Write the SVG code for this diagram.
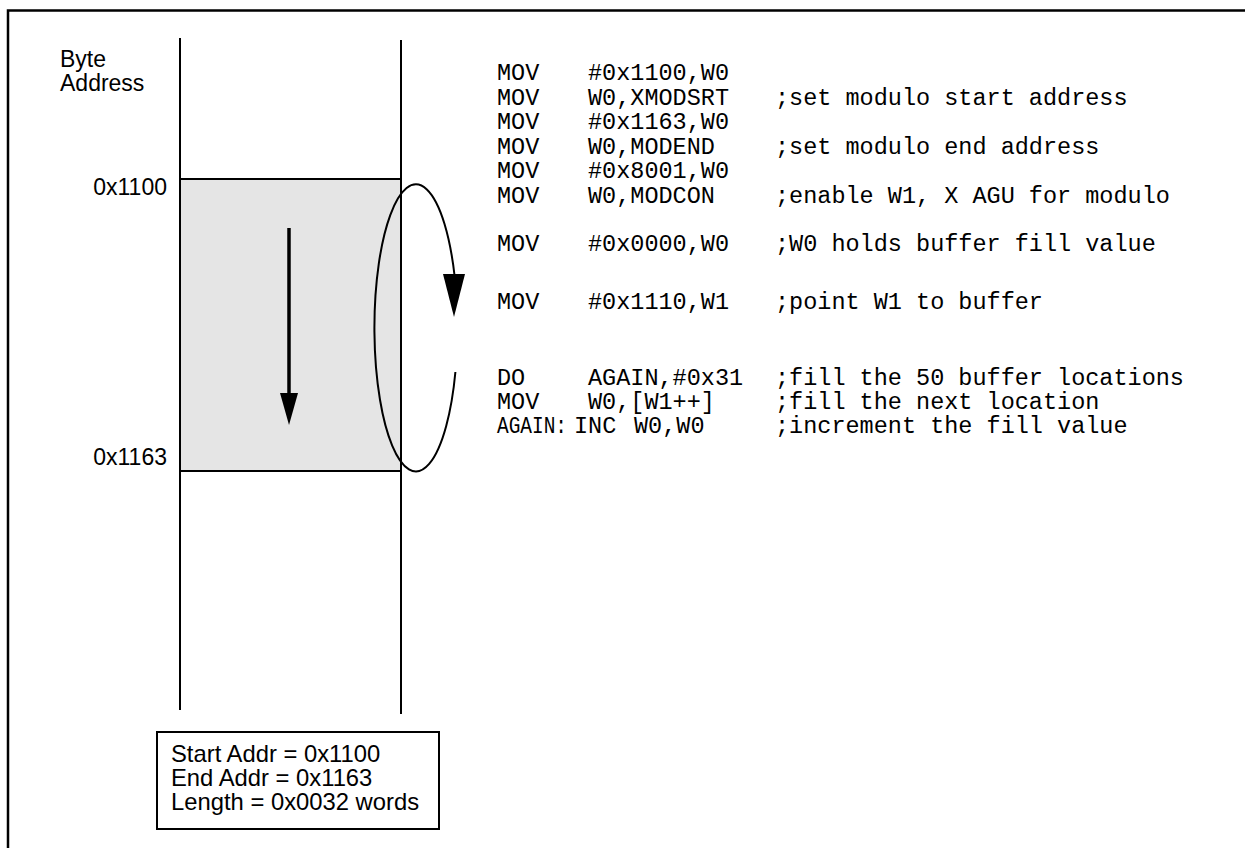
<svg xmlns="http://www.w3.org/2000/svg" width="1245" height="848" viewBox="0 0 1245 848">
<style>
.frame{fill:none;stroke:#000;stroke-width:2.5}
.ln{fill:none;stroke:#000;stroke-width:2}
.lbl{font-family:"Liberation Sans",Arial,sans-serif;font-size:23px;fill:#000}
.box{font-family:"Liberation Sans",Arial,sans-serif;font-size:23.8px;fill:#000}
.code{font-family:"Liberation Mono","Courier New",monospace;font-size:23.5px;fill:#000}
.ah{fill:#000;stroke:none}
</style>
<rect width="1245" height="848" fill="#fff"/>
<g id="frame">
<path class="frame" d="M8 849 V10.5 H1246"/>
</g>
<g id="memory">
<rect x="180" y="179" width="221" height="292" fill="#e5e5e5" stroke="none"/>
<line class="ln" x1="180" y1="179" x2="401" y2="179"/>
<line class="ln" x1="180" y1="471" x2="401" y2="471"/>
<line class="ln" x1="180" y1="38" x2="180" y2="710"/>
<line class="ln" x1="401" y1="40" x2="401" y2="714"/>
</g>
<g id="labels">
<text class="lbl" x="60" y="67" font-size="23.5">Byte</text>
<text class="lbl" x="60" y="91" font-size="23.5">Address</text>
<text class="lbl" x="167" y="195" text-anchor="end">0x1100</text>
<text class="lbl" x="167" y="465" text-anchor="end">0x1163</text>
</g>
<g id="connectors">
<line x1="289" y1="228" x2="289" y2="396" stroke="#000" stroke-width="3.5"/>
<polygon class="ah" points="280,393 298,393 289,425"/>
<path class="ln" stroke-width="2.5" d="M455.4 372 A41.5 143.5 0 1 1 454.6 276"/>
<polygon class="ah" points="443,274 465,274 454,317"/>
</g>
<g id="code">
<text class="code" x="497" y="80">MOV</text><text class="code" x="588" y="80">#0x1100,W0</text>
<text class="code" x="497" y="104.5">MOV</text><text class="code" x="588" y="104.5">W0,XMODSRT</text><text class="code" x="775" y="104.5">;set modulo start address</text>
<text class="code" x="497" y="129">MOV</text><text class="code" x="588" y="129">#0x1163,W0</text>
<text class="code" x="497" y="153.5">MOV</text><text class="code" x="588" y="153.5">W0,MODEND</text><text class="code" x="775" y="153.5">;set modulo end address</text>
<text class="code" x="497" y="178">MOV</text><text class="code" x="588" y="178">#0x8001,W0</text>
<text class="code" x="497" y="202.5">MOV</text><text class="code" x="588" y="202.5">W0,MODCON</text><text class="code" x="775" y="202.5">;enable W1, X AGU for modulo</text>
<text class="code" x="497" y="251">MOV</text><text class="code" x="588" y="251">#0x0000,W0</text><text class="code" x="775" y="251">;W0 holds buffer fill value</text>
<text class="code" x="497" y="309">MOV</text><text class="code" x="588" y="309">#0x1110,W1</text><text class="code" x="775" y="309">;point W1 to buffer</text>
<text class="code" x="497" y="385">DO</text><text class="code" x="588" y="385">AGAIN,#0x31</text><text class="code" x="775" y="385">;fill the 50 buffer locations</text>
<text class="code" x="497" y="409">MOV</text><text class="code" x="588" y="409">W0,[W1++]</text><text class="code" x="775" y="409">;fill the next location</text>
<text class="code" x="497" y="433" textLength="70" lengthAdjust="spacingAndGlyphs">AGAIN:</text><text class="code" x="574" y="433">INC</text><text class="code" x="634" y="433">W0,W0</text><text class="code" x="775" y="433">;increment the fill value</text>
</g>
<g id="info-box">
<rect x="157" y="732" width="282" height="97" fill="#fff" stroke="#000" stroke-width="2"/>
<text class="box" x="171" y="762">Start Addr = 0x1100</text>
<text class="box" x="171" y="786">End Addr  = 0x1163</text>
<text class="box" x="171" y="810">Length = 0x0032 words</text>
</g>
</svg>
